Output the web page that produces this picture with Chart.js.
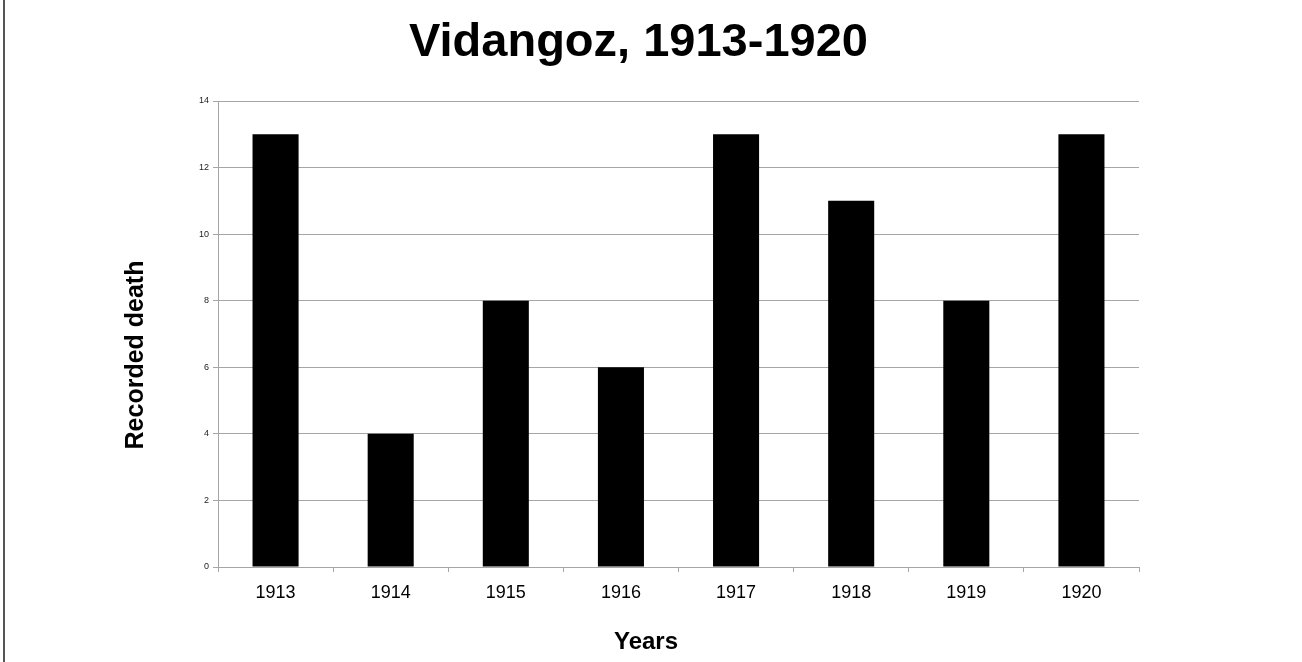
<!DOCTYPE html>
<html>
<head>
<meta charset="utf-8">
<title>Vidangoz, 1913-1920</title>
<script src="https://cdn.jsdelivr.net/npm/chart.js@4"></script>
<style>
  html, body { margin: 0; padding: 0; background: #fff; }
  #wrap { position: relative; width: 1302px; height: 662px; }
  #edge { position: absolute; left: 3px; top: 0; width: 2px; height: 662px; background: #555; }
</style>
</head>
<body>
<div id="wrap">
  <canvas id="deathChart" width="1302" height="662"></canvas>
  <div id="edge"></div>
</div>
<script>
// données
const years = ['1913', '1914', '1915', '1916', '1917', '1918', '1919', '1920'];
const deaths = [13, 4, 8, 6, 13, 11, 8, 13];
const yTicks = [0, 2, 4, 6, 8, 10, 12, 14];

const gridGrey = '#a6a6a6';
const fontName = "'Liberation Sans', Arial, sans-serif";

Chart.defaults.font.family = fontName;

// titres des axes, placés comme sur l'original (pas centrés sur la zone)
const axisTitles = {
    id: 'axisTitles',
    afterDraw(chart) {
        const c = chart.ctx;
        c.save();
        c.fillStyle = '#000';
        c.font = 'bold 24px ' + fontName;
        c.textAlign = 'center';
        c.textBaseline = 'alphabetic';
        c.fillText('Years', 646, 649);
        c.translate(136, 355);
        c.rotate(-Math.PI / 2);
        c.font = 'bold 25px ' + fontName;
        c.textBaseline = 'middle';
        c.fillText('Recorded death', 0, 0);
        c.restore();
    }
};

const ctx = document.getElementById('deathChart').getContext('2d');
const chart = new Chart(ctx, {
    type: 'bar',
    data: {
        labels: years,
        datasets: [{
            label: 'Recorded death',
            data: deaths,
            backgroundColor: '#000',
            borderWidth: 0,
            barPercentage: 0.4,
            categoryPercentage: 1.0
        }]
    },
    options: {
        responsive: false,
        animation: false,
        layout: { padding: { left: 138, right: 163, top: 0, bottom: 8 } },
        plugins: {
            legend: { display: false },
            tooltip: { enabled: false },
            title: {
                display: true,
                text: 'Vidangoz, 1913-1920',
                color: '#000',
                font: { size: 47, weight: 'bold' },
                padding: { top: 15, bottom: 29.6 }
            }
        },
        scales: {
            x: {
                grid: { drawOnChartArea: false, offset: true, color: gridGrey, tickLength: 5 },
                border: { color: gridGrey },
                ticks: { color: '#000', font: { size: 18 }, padding: 10, maxRotation: 0 },
                afterFit: (scale) => { scale.height = 87; }
            },
            y: {
                min: 0,
                max: 14,
                afterBuildTicks: (scale) => { scale.ticks = yTicks.map(v => ({ value: v })); },
                grid: { color: gridGrey, tickLength: 5 },
                border: { color: gridGrey },
                ticks: { color: '#222', font: { size: 9 }, padding: 4 },
                afterFit: (scale) => { scale.width = 80; }
            }
        }
    },
    plugins: [axisTitles]
});
</script>
</body>
</html>
